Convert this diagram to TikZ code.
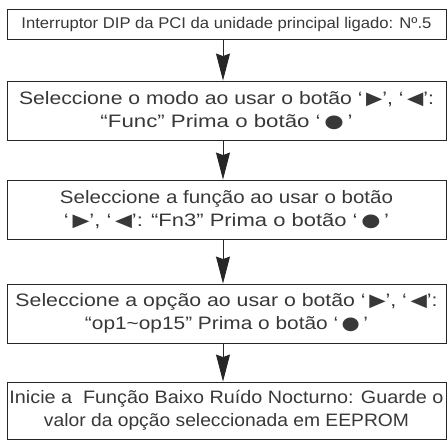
\documentclass[tikz,border=0pt]{standalone}
\usepackage{fontspec}
\usepackage{graphicx}
\setmainfont{Liberation Sans}
\newfontfamily\symf{DejaVu Sans}
\usetikzlibrary{arrows.meta}
\newcommand{\rtri}{{\symf ▶}}
\newcommand{\ltri}{{\symf ◀}}
\newcommand{\bdot}{{\symf ●}}
\newcommand{\fitline}[2]{\resizebox{#1pt}{\height}{#2}}
\begin{document}
\begin{tikzpicture}[x=1pt,y=-1pt,
  flowbox/.style={draw=black!85, line width=0.9pt, minimum width=439pt, inner sep=0pt,
    align=center, font=\fontsize{18}{22.5}\selectfont, text=black!78},
  flowarrow/.style={draw=black!85, line width=0.9pt,
    -{Stealth[length=27pt,width=14pt,inset=2.5pt]}}]
\useasboundingbox (0,0) rectangle (447,440);
\node[flowbox, minimum height=30pt, font=\fontsize{15.5}{20}\selectfont] (b1) at (226.5,24)
  {\fitline{410}{Interruptor DIP da PCI da unidade principal ligado: Nº.5}};
\node[flowbox, minimum height=59pt] (b2) at (226.5,110.5)
  {\fitline{415}{Seleccione o modo ao usar o botão ‘\,\rtri’, ‘\,\ltri’:}\\
   \fitline{252}{“Func” Prima o botão ‘\,\bdot\,’}};
\node[flowbox, minimum height=59pt] (b3) at (226.5,209.5)
  {\fitline{333}{Seleccione a função ao usar o botão}\\
   \fitline{325}{‘\,\rtri’, ‘\,\ltri’: “Fn3” Prima o botão ‘\,\bdot\,’}};
\node[flowbox, minimum height=59pt] (b4) at (226.5,313.5)
  {\fitline{422}{Seleccione a opção ao usar o botão ‘\,\rtri’, ‘\,\ltri’:}\\
   \fitline{283}{“op1\textasciitilde op15” Prima o botão ‘\,\bdot\,’}};
\node[flowbox, minimum height=57pt] (b5) at (226.5,410.5)
  {\fitline{434}{Inicie a\ \ Função Baixo Ruído Nocturno: Guarde o}\\
   \fitline{365}{valor da opção seleccionada em EEPROM}};
\draw[flowarrow] ([xshift=-3.5pt]b1.south) -- ([xshift=-3.5pt]b2.north);
\draw[flowarrow] ([xshift=-3.5pt]b2.south) -- ([xshift=-3.5pt]b3.north);
\draw[flowarrow] ([xshift=-3.5pt]b3.south) -- ([xshift=-3.5pt]b4.north);
\draw[flowarrow] ([xshift=-3.5pt]b4.south) -- ([xshift=-3.5pt]b5.north);
\end{tikzpicture}
\end{document}
